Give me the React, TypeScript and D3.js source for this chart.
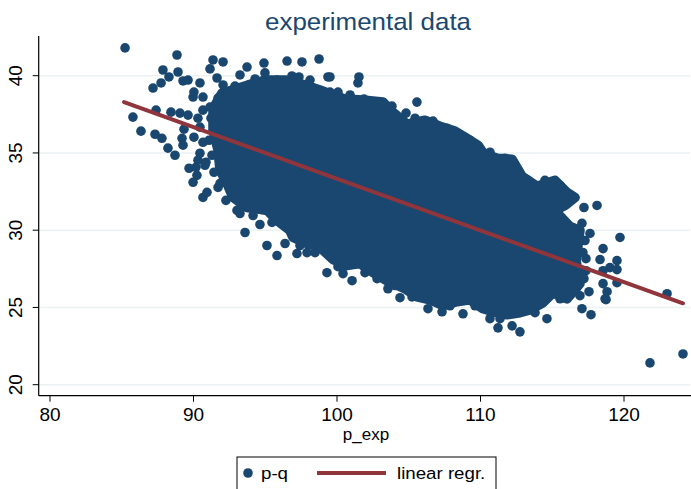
import React from 'react';
import * as d3 from 'd3';

// axis ticks
const xTicks = [80, 90, 100, 110, 120];
const yTicks = [20, 25, 30, 35, 40];

// outline of the densely packed part of the cloud (p_exp, p-q)
const coreX = [91.50, 91.99, 92.68, 93.80, 94.98, 96.38, 97.77, 98.82, 99.72, 100.56, 101.81, 103.21, 103.90, 104.88, 106.13, 107.18, 108.22, 108.92, 109.83, 110.24, 111.15, 112.20, 112.89, 113.94, 115.19, 116.03, 116.59, 115.89, 115.19, 116.24, 116.93, 116.66, 116.93, 116.03, 115.05, 114.36, 113.45, 112.75, 111.85, 110.87, 110.17, 109.27, 108.36, 107.39, 106.48, 105.57, 104.74, 103.48, 102.51, 101.60, 100.70, 99.72, 98.82, 97.91, 96.93, 96.72, 95.82, 95.12, 93.73, 92.75, 92.33, 91.85, 91.71, 91.36, 91.36];
const coreY = [38.10, 38.88, 39.07, 39.40, 39.72, 39.72, 39.40, 39.07, 38.75, 38.49, 38.42, 38.29, 37.64, 36.86, 37.12, 36.73, 36.41, 36.02, 35.50, 34.92, 34.66, 34.59, 33.49, 32.84, 33.23, 32.45, 32.12, 31.60, 31.28, 30.24, 29.98, 28.03, 26.54, 25.56, 25.95, 25.31, 24.85, 24.66, 24.53, 24.72, 24.92, 25.50, 25.37, 25.11, 25.50, 25.69, 26.21, 26.73, 27.25, 27.84, 27.71, 28.10, 28.88, 29.14, 29.53, 29.98, 30.63, 31.28, 31.47, 32.12, 33.03, 33.88, 35.18, 36.47, 37.58];

// single observations around the cloud
const pX = [85.23, 88.85, 87.87, 88.92, 88.29, 87.74, 87.18, 89.27, 89.62, 90.45, 90.03, 89.97, 90.66, 91.36, 92.06, 91.15, 91.64, 92.06, 93.73, 93.24, 94.91, 94.98, 95.82, 96.52, 97.56, 97.35, 98.75, 99.37, 98.33, 99.51, 99.51, 101.53, 101.46, 101.88, 102.65, 105.57, 104.81, 106.69,
  85.78, 86.34, 87.39, 87.32, 87.80, 88.22, 88.71, 88.43, 89.06, 89.62, 89.20, 89.27, 89.69, 90.17, 89.34, 90.03, 90.45, 90.66, 90.87, 90.31, 90.66, 91.15, 90.45, 90.24, 89.97, 90.66, 90.94, 91.71, 93.03, 93.59, 90.31, 90.80,
  94.63, 95.12, 95.82, 96.38, 97.21, 97.91, 99.30, 100.42, 101.05, 102.79, 103.55, 104.39, 106.34, 107.32, 108.78, 110.66, 111.22, 112.20, 112.75, 114.63,
  117.07, 117.70, 116.93, 117.56, 118.68, 118.54, 117.35, 118.33, 118.54, 119.51, 119.72, 117.07, 117.21, 118.12, 119.02, 118.54, 119.51, 119.51, 118.82, 118.75, 123.00, 121.81, 124.11, 115.33, 114.36, 114.98, 115.54, 116.24, 116.59, 116.45, 116.03,
  117.28, 117.14, 117.35, 117.21, 117.63, 116.66,
  91.22, 91.08, 91.29, 91.43, 91.85, 92.26, 93.24, 94.15, 95.47,
  91.71, 92.40, 92.89, 94.29, 96.86, 98.12, 100.07, 100.91,
  103.83, 105.44, 107.67, 109.27, 110.66, 111.71, 113.31, 114.49, 115.54,
  97.42, 98.47, 100.07, 101.95, 104.04, 105.23, 107.87, 109.62, 111.36, 113.80, 115.54];
const pY = [41.80, 41.34, 40.37, 40.24, 39.92, 39.53, 39.20, 39.66, 39.72, 39.53, 38.94, 38.62, 38.62, 41.02, 40.89, 40.44, 39.85, 39.40, 40.56, 40.05, 40.82, 40.18, 39.72, 40.95, 40.89, 39.92, 41.08, 39.92, 39.20, 39.92, 38.94, 39.92, 39.53, 38.49, 38.16, 38.29, 37.58, 37.06,
  37.32, 36.41, 37.77, 36.21, 35.95, 35.31, 34.85, 37.64, 37.58, 37.45, 35.95, 35.50, 34.01, 34.07, 36.54, 36.02, 36.67, 35.69, 34.40, 37.25, 37.77, 37.97, 34.98, 33.55, 33.10, 32.12, 32.45, 32.77, 31.28, 29.85, 34.53, 34.20,
  30.37, 29.01, 28.36, 29.14, 28.49, 28.55, 27.25, 27.19, 26.73, 26.86, 26.21, 25.63, 24.92, 24.72, 24.59, 24.27, 23.68, 23.81, 23.42, 24.27,
  24.92, 24.53, 25.76, 26.02, 25.56, 26.54, 28.16, 28.10, 28.81, 28.03, 29.53, 30.44, 31.47, 31.60, 27.58, 27.38, 27.45, 26.60, 26.02, 25.50, 25.89, 21.41, 21.99, 31.47, 30.95, 30.63, 30.50, 30.18, 29.66, 29.14, 31.80,
  29.33, 28.55, 27.38, 26.86, 29.79, 26.21,
  37.25, 35.82, 34.85, 33.75, 33.03, 31.93, 31.08, 30.95, 30.50,
  38.55, 38.94, 39.33, 39.79, 39.98, 39.72, 38.94, 38.75,
  38.03, 37.25, 36.60, 35.82, 35.05, 34.66, 33.23, 33.23, 32.90,
  29.01, 28.55, 27.64, 27.25, 26.42, 25.68, 25.11, 25.11, 24.27, 24.66, 25.56];

// fitted line end points
const regX = [85.16, 124.11];
const regY = [38.29, 25.27];

const W = 691;
const H = 489;
const left = 38.7;
const right = 690;
const top = 36;
const bottom = 395.7;

const navy = '#1a476f';
const maroon = '#90353b';
const font = 'Liberation Sans, Arial, sans-serif';

export default function App() {
  const x = d3.scaleLinear().domain([80, 120]).range([50, 624]);
  const y = d3.scaleLinear().domain([20, 40]).range([384.7, 75.7]);

  const corePts: [number, number][] = coreX.map((v, i) => [x(v), y(coreY[i])]);
  const corePath = d3.line()(corePts) + 'Z';
  const regPath = d3.line()(regX.map((v, i) => [x(v), y(regY[i])] as [number, number]));

  return (
    <svg width={W} height={H} style={{ position: 'absolute', left: 0, top: 0, background: '#fff' }}>
      <rect x={0} y={0} width={W} height={H} fill="#fff" />
      <text transform="translate(368,30) scale(1.08,1)" textAnchor="middle" fontFamily={font} fontSize={24} fill={navy}>
        experimental data
      </text>

      {yTicks.map(t => (
        <line key={'g' + t} x1={left} x2={right} y1={y(t)} y2={y(t)} stroke="#eaf2f3" strokeWidth={1.5} />
      ))}

      <path d={corePath} fill={navy} stroke={navy} strokeWidth={9.6} strokeLinejoin="round" />
      {pX.map((v, i) => (
        <circle key={'p' + i} cx={x(v)} cy={y(pY[i])} r={4.8} fill={navy} />
      ))}

      <path d={regPath || ''} stroke={maroon} strokeWidth={4} fill="none" strokeLinecap="round" />

      {/* axes */}
      <line x1={left} x2={left} y1={top} y2={bottom} stroke="#000" strokeWidth={1.2} />
      <line x1={left} x2={right + 1} y1={bottom} y2={bottom} stroke="#000" strokeWidth={1.2} />
      {yTicks.map(t => (
        <g key={'y' + t}>
          <line x1={left - 6} x2={left} y1={y(t)} y2={y(t)} stroke="#000" strokeWidth={1} />
          <text transform={`translate(22,${y(t)}) rotate(-90)`} textAnchor="middle" fontFamily={font} fontSize={19} fill="#000">
            {t}
          </text>
        </g>
      ))}
      {xTicks.map(t => (
        <g key={'x' + t}>
          <line x1={x(t)} x2={x(t)} y1={bottom} y2={bottom + 6} stroke="#000" strokeWidth={1} />
          <text x={x(t)} y={421} textAnchor="middle" fontFamily={font} fontSize={19} fill="#000">
            {t}
          </text>
        </g>
      ))}
      <text x={366} y={440} textAnchor="middle" fontFamily={font} fontSize={17} fill="#000">p_exp</text>

      {/* legend */}
      <rect x={237} y={457} width={259} height={40} fill="#fff" stroke="#000" strokeWidth={1} />
      <circle cx={248} cy={473} r={4.8} fill={navy} />
      <text transform="translate(261,479) scale(1.1,1)" fontFamily={font} fontSize={17} fill="#000">p-q</text>
      <line x1={317} x2={386} y1={473} y2={473} stroke={maroon} strokeWidth={4} />
      <text transform="translate(397,479) scale(1.1,1)" fontFamily={font} fontSize={17} fill="#000">linear regr.</text>
    </svg>
  );
}
